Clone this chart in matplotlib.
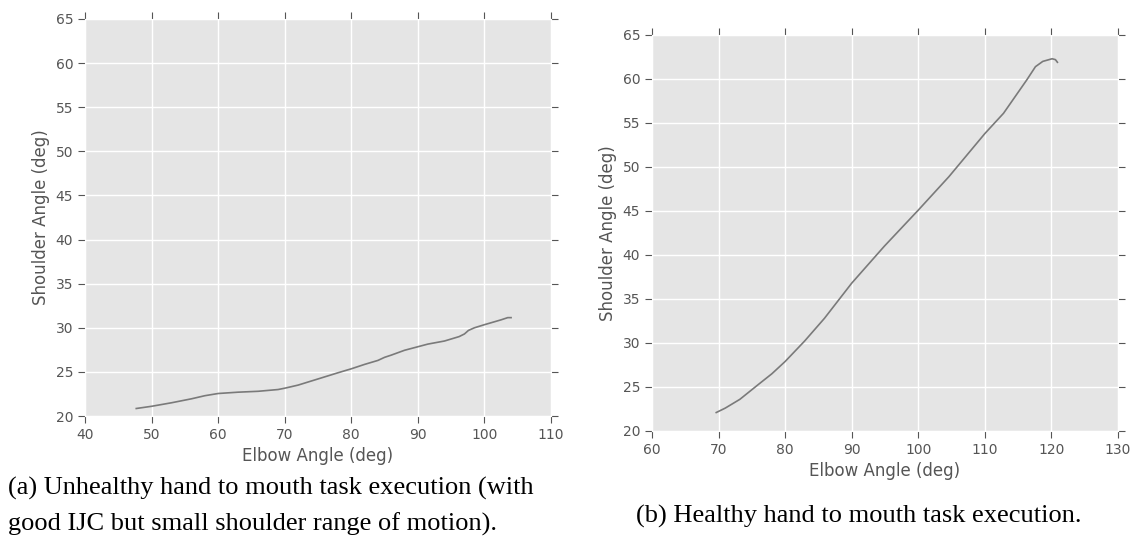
import numpy as np
import matplotlib.pyplot as plt

# curva (a): paciente, pouca amplitude do ombro
elbow_a = [47.7, 50, 53, 56, 58, 60, 63, 66, 69, 70, 72, 75, 78, 80, 82, 84,
           85, 86, 88, 90, 91.5, 94, 96.2, 97, 97.6, 98.5, 100, 102.5, 103.5, 104]
shoulder_a = [20.85, 21.1, 21.5, 21.95, 22.3, 22.55, 22.7, 22.8, 23.0, 23.15, 23.5, 24.2,
              24.9, 25.35, 25.85, 26.3, 26.65, 26.9, 27.45, 27.85, 28.15, 28.5, 29.0,
              29.3, 29.7, 30.0, 30.35, 30.9, 31.15, 31.15]

# curva (b): saudável
elbow_b = [69.65, 71, 73.2, 76, 78, 80, 82.9, 85.9, 90, 94.9, 100, 104.6, 110, 112.8,
           116.3, 117.6, 118.7, 120.1, 120.6, 120.9]
shoulder_b = [22.1, 22.6, 23.6, 25.3, 26.5, 27.9, 30.2, 32.8, 36.8, 41.0, 45.1, 48.9,
              53.8, 56.1, 59.9, 61.4, 62.0, 62.3, 62.2, 61.9]

legenda_a = ["(a) Unhealthy hand to mouth task execution (with",
             "good IJC but small shoulder range of motion)."]
legenda_b = "(b) Healthy hand to mouth task execution."

plt.rcParams.update({
    'axes.facecolor': '#E5E5E5',
    'axes.edgecolor': 'white',
    'axes.grid': True,
    'grid.color': 'white',
    'grid.linestyle': '-',
    'grid.linewidth': 1.0,
    'xtick.color': '#555555',
    'ytick.color': '#555555',
    'xtick.direction': 'out',
    'ytick.direction': 'out',
    'xtick.major.size': 5,
    'ytick.major.size': 5,
    'axes.labelcolor': '#555555',
    'font.size': 10,
})

fig = plt.figure(figsize=(11.33, 5.45), dpi=100)
W, H = 1133, 545

def eixo(l, t, r, b):
    return fig.add_axes([l / W, 1 - b / H, (r - l) / W, (b - t) / H])

ax1 = eixo(85, 19, 551, 416)
ax2 = eixo(652, 35, 1118, 431)

for ax, x, y, xlim in [(ax1, elbow_a, shoulder_a, (40, 110)), (ax2, elbow_b, shoulder_b, (60, 130))]:
    ax.plot(x, y, color='#7a7a7a', lw=1.2)
    ax.set_xlim(*xlim)
    ax.set_ylim(20, 65)
    ax.set_xticks(np.arange(xlim[0], xlim[1] + 1, 10))
    ax.set_yticks(np.arange(20, 66, 5))
    ax.set_axisbelow(True)
    ax.tick_params(top=True, right=True, labelsize=10, width=0.8)
    ax.set_xlabel('Elbow Angle (deg)', fontsize=12)
    ax.set_ylabel('Shoulder Angle (deg)', fontsize=12)

# legendas das subfiguras, em fonte serifada
for linha, base in zip(legenda_a, [495, 531]):
    fig.text(8 / W, 1 - base / H, linha, family='Liberation Serif', fontsize=19,
             va='baseline', ha='left')
fig.text(636 / W, 1 - 523 / H, legenda_b, family='Liberation Serif', fontsize=19,
         va='baseline', ha='left')

fig.savefig('out.png', dpi=100)
